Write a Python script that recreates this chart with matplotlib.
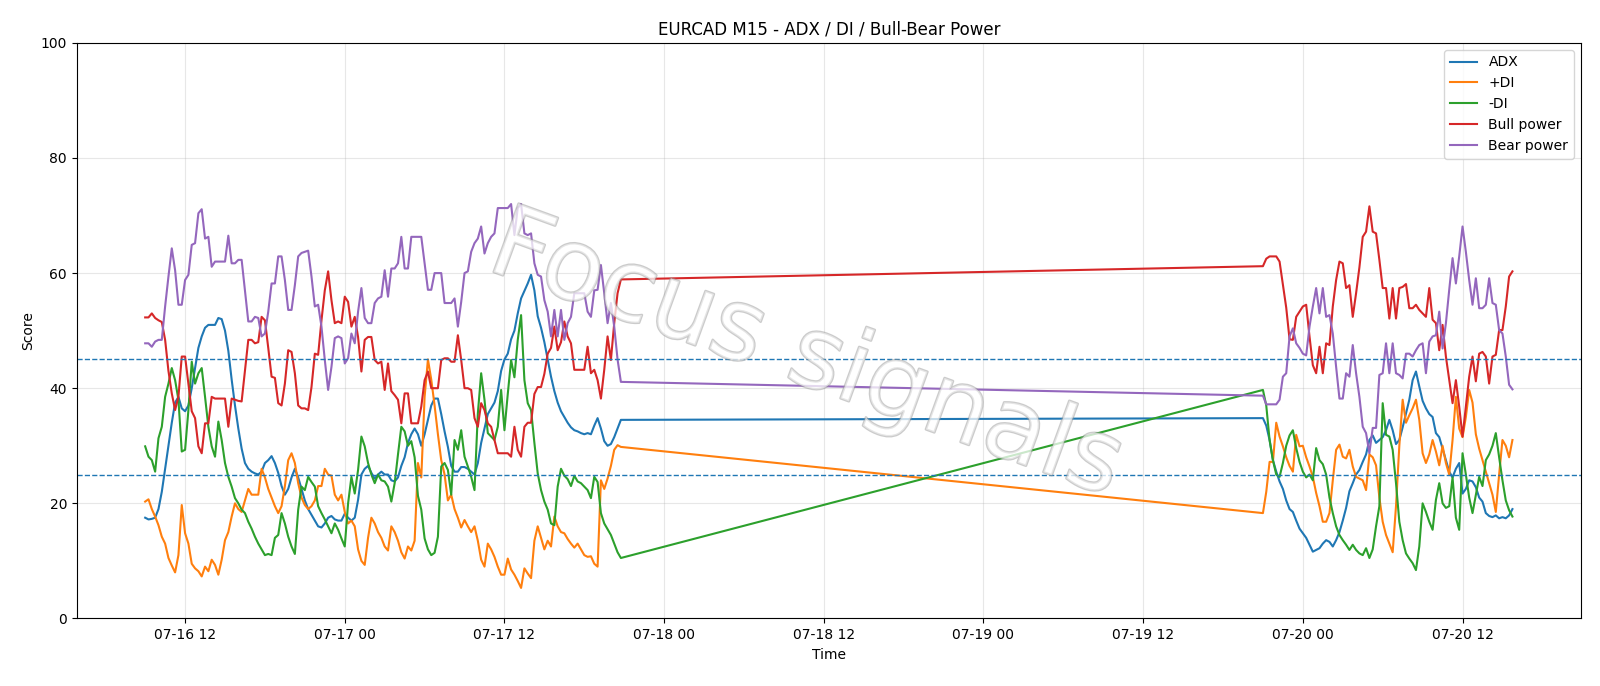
import matplotlib
matplotlib.use("Agg")
import matplotlib.pyplot as plt
import matplotlib.dates as mdates
import matplotlib.patheffects as pe
import pandas as pd

# ---- data: two trading segments of M15 bars ----
seg1_start = "2025-07-16 09:00"
seg2_start = "2025-07-19 21:00"

adx_1 = [17.5, 17.2, 17.3, 17.5, 19, 22, 26, 30, 34, 37.5,
         38.5, 36.5, 36, 37, 40, 43.5, 47, 49, 50.5, 51,
         51, 51, 52.2, 52, 50, 46.5, 41.5, 37, 33, 29.5,
         27, 26, 25.5, 25.2, 25, 25.5, 27, 27.5, 28.2, 27,
         25.3, 23, 21.5, 22.5, 24.5, 26, 24.5, 22.5, 20.5, 19,
         18, 17, 16, 15.8, 16.5, 17.5, 17.8, 17.2, 17, 17,
         18.2, 17.5, 17, 17.5, 20.6, 25, 26, 26.5, 25.3, 24.3,
         25, 25.5, 25, 25, 24, 23.8, 24.5, 26.5, 28, 30.5,
         32, 33, 32, 30, 32, 34.5, 37, 38.2, 38.2, 35.5,
         32.5, 29.8, 26.5, 25.5, 25.5, 26.3, 26.3, 26, 25.5, 25,
         27, 30.5, 33, 35.5, 36.5, 37.5, 39.5, 43, 45, 46,
         48.5, 50, 53, 55.6, 56.9, 58.2, 59.7, 57, 52.5, 50.5,
         48, 45, 42, 39.5, 37.5, 36, 35, 34, 33.2, 32.7,
         32.5, 32.2, 32, 32.2, 32, 33.5, 34.8, 33, 30.8, 30,
         30.3, 31.5, 33, 34.5]
pdi_1 = [20.3, 20.7, 19, 17.7, 16.2, 14.2, 13, 10.5, 9.2, 8,
         11, 19.7, 14.8, 13, 9.5, 8.7, 8.2, 7.3, 9, 8.2,
         10.2, 9.3, 7.6, 10.2, 13.6, 15, 17.7, 20, 19, 18.5,
         20.5, 22.5, 21.5, 21.5, 21.5, 26, 24.5, 22.5, 21, 19.5,
         18.3, 19.5, 23, 27.5, 28.7, 27, 23.5, 21, 19.7, 19,
         19.5, 20.5, 23, 23, 26, 25, 24.8, 21.5, 20.5, 21.5,
         18.5, 16.5, 17, 16, 12, 10, 9.3, 14, 17.5, 16.5,
         15, 14, 12.5, 11.8, 16, 15, 13.5, 11.5, 10.4, 12.5,
         11.8, 13.5, 27, 24.5, 38.5, 45, 41.5, 37, 32, 27.5,
         25, 20.5, 21.5, 19, 17.5, 15.8, 17.1, 16, 15, 16,
         13.5, 10.2, 9, 13, 12, 10.7, 9, 7.6, 7.6, 10.4,
         8.5, 7.6, 6.5, 5.3, 8.7, 7.8, 7, 13.5, 16, 14,
         12, 13.5, 12.5, 17.7, 16, 15, 14.8, 13.8, 13, 12.3,
         13, 12, 11, 10.7, 10.8, 9.5, 9, 24, 22.5, 24.3,
         26.5, 29.3, 30.1, 29.8]
mdi_1 = [29.9, 28.1, 27.5, 25.5, 31.3, 33.3, 38.5, 40.8, 43.5, 41.4,
         38, 29, 29.3, 36.2, 44.6, 40.8, 42.6, 43.5, 38.5, 33.3,
         29.9, 28.1, 34.2, 31, 27, 24.6, 22.9, 20.9, 20, 18.9,
         18.3, 16.8, 15.6, 14.2, 13, 12, 11, 11.2, 11, 14,
         14.5, 18.3, 16.5, 14.2, 12.5, 11.2, 18.9, 22.9, 22.3, 24.6,
         23.7, 22.9, 19.5, 18.3, 17.2, 16, 14.8, 16.5, 15.4, 13.9,
         12.5, 20, 24.6, 21.7, 25.8, 31.6, 29.9, 27, 25, 23.5,
         25, 24, 23.8, 22.9, 20.3, 23.5, 28.5, 33.3, 32.5, 30,
         30.8, 28, 21.3, 18.9, 13.9, 12, 11, 11.4, 14.2, 26.4,
         27, 25.8, 21.5, 31, 29.3, 32.7, 28.1, 26.4, 24.6, 22.3,
         35.6, 42.6, 38, 32.2, 31.6, 31, 33.3, 39.7, 32.7, 39,
         44.9, 41.9, 48.4, 52.7, 41.4, 37.4, 36.2, 30.5, 25.2, 22.3,
         20.3, 18.9, 16.5, 16.2, 22.9, 26, 24.8, 24.2, 23, 24.8,
         23.8, 23.5, 22.9, 22.3, 20.9, 24.6, 23.7, 18.3, 16.5, 15.5,
         14.5, 13, 11.5, 10.5]
bull_1 = [52.3, 52.3, 53, 52.2, 51.8, 51.5, 48.4, 43, 39.1, 36.2,
          38.5, 45.5, 45.5, 40.8, 36, 34.8, 29.9, 28.7, 33.9, 33.9,
          38.5, 38.2, 38.2, 38.2, 38.2, 33.3, 38.2, 38, 37.8, 37.7,
          43, 48.4, 48.4, 47.8, 48, 52.4, 51.8, 47, 42, 41.8,
          37.4, 37, 40.8, 46.6, 46.3, 42.6, 37, 36.5, 36.5, 36.2,
          40.2, 46, 45.8, 51.8, 57, 60.3, 55.3, 51.3, 51.6, 51.3,
          55.9, 55, 50.7, 52.4, 48.9, 42.9, 48.4, 48.9, 48.9, 44.9,
          44.3, 44.6, 39.7, 44.3, 39.5, 38.8, 38, 33.9, 39.1, 39.1,
          33.9, 33.9, 33.9, 36.8, 41.4, 42.9, 40, 40, 40, 44.9,
          45.2, 45.2, 44.6, 44.6, 49.2, 44.9, 40, 40, 39.7, 34.8,
          33.3, 37.4, 36.2, 33.9, 33.3, 31, 28.7, 28.7, 28.7, 28.7,
          28.1, 33.3, 29.3, 28.1, 33.3, 34, 34, 39, 40.2, 40.2,
          42.5, 46, 47, 50.7, 46.6, 48, 51.6, 49, 47.8, 43.2,
          43.2, 43.2, 43.2, 47.2, 42.6, 43.2, 41.4, 38.2, 43.2, 49,
          44.9, 51.3, 56.5, 58.9]
bear_1 = [47.8, 47.8, 47.2, 48.1, 48.4, 48.4, 54.2, 59.4, 64.3, 60.5,
          54.5, 54.5, 58.8, 59.7, 64.9, 65.2, 70.4, 71.1, 66, 66.3,
          61.1, 62, 62, 62, 62, 66.5, 61.7, 61.7, 62.3, 62.3,
          57, 51.6, 51.6, 52.4, 52.2, 49, 49.5, 53.3, 58.2, 58.2,
          62.9, 62.9, 58.8, 53.6, 53.6, 57.9, 62.9, 63.5, 63.7, 63.9,
          59.4, 54.2, 54.5, 50.7, 44.9, 39.7, 43.7, 48.7, 49, 48.7,
          44.3, 45.2, 49.5, 47.8, 53.3, 57.4, 52.2, 51.3, 51.3, 54.8,
          55.6, 55.9, 60.5, 55.9, 60.8, 60.8, 61.7, 66.3, 60.8, 60.8,
          66.3, 66.3, 66.3, 66.3, 61.7, 57.1, 57.1, 60, 60, 60,
          54.8, 54.8, 54.8, 55.6, 50.7, 55, 60, 60.3, 63.7, 65.2,
          66, 68.1, 63.4, 65.2, 66.3, 66.9, 71.3, 71.3, 71.3, 71.3,
          72, 66.6, 71.3, 72, 66.9, 66.6, 66.9, 61.7, 59.7, 59.4,
          55.3, 53.3, 49, 53.6, 49, 53.6, 48.4, 51.3, 52.4, 56.5,
          56.5, 56.5, 56.5, 53.3, 52.4, 57, 57.1, 61.4, 56.5, 51.3,
          54.8, 50.7, 45, 41.1]

adx_2 = [34.8, 33.5, 31, 27.5, 25.5, 23.8, 22.5, 20.5, 19, 18.5,
         17, 15.6, 14.8, 14, 12.8, 11.6, 11.9, 12.2, 13, 13.6,
         13.3, 12.5, 13.6, 15, 17, 19.2, 22.1, 23.5, 25, 25.8,
         27.2, 28.5, 31, 31.8, 30.5, 31, 31.5, 32.7, 34.5, 32.7,
         30.3, 31, 33.2, 35.6, 38, 41.4, 42.9, 40.3, 37.8, 36.5,
         35.5, 35, 32.2, 31.5, 29.5, 27.5, 25.5, 24.5, 26, 27,
         21.7, 22.5, 24, 23.8, 22.8, 21, 20.3, 18.3, 17.8, 17.6,
         17.9, 17.4, 17.6, 17.4, 17.9, 19]
pdi_2 = [18.3, 22, 27.2, 27.2, 34, 31.6, 29.9, 28, 26.5, 25.5,
         31.9, 29.9, 30, 28, 26.4, 24.6, 21.8, 19.5, 16.8, 16.8,
         18.3, 24, 29.3, 30.2, 28.1, 27.8, 29.3, 26.4, 24.6, 24.3,
         24, 22.3, 28.5, 28, 26.6, 21, 16.8, 14.5, 13, 11.5,
         19.5, 30, 38, 34, 35.3, 36.5, 38, 34.5, 28.7, 27,
         28.5, 31, 29, 26.6, 30, 27, 25, 31, 38.5, 33,
         31.5, 35, 39.7, 37.5, 32, 29.5, 27.5, 25.5, 23.5, 21.5,
         18.5, 25, 31, 30, 28, 31]
mdi_2 = [39.7, 37, 31, 27.5, 25, 24.6, 27, 30, 31.8, 32.7,
         29.6, 27.2, 25.5, 24.5, 25, 24, 29.6, 27.5, 26.8, 25,
         21, 18.3, 16, 14.5, 13.6, 12.8, 11.9, 12.8, 11.9, 11.3,
         11, 12.2, 10.5, 12, 16, 19.5, 37.4, 31.9, 31.6, 29.3,
         23.5, 16.8, 13.6, 11.3, 10.4, 9.6, 8.4, 12.5, 20, 18.5,
         16.8, 15.4, 20.6, 23.5, 20, 19.2, 19.5, 24.5, 17.5, 15.4,
         28.7, 25, 21, 18.3, 21.5, 24.6, 23, 27.5, 28.5, 30,
         32.2, 28, 24, 20.5, 18.8, 17.7]
bull_2 = [61.2, 62.5, 62.9, 62.9, 62.9, 62, 58, 54, 48.5, 48.4,
          52.4, 53.3, 54.2, 54.5, 49, 44, 42.6, 47.2, 42.6, 47.8,
          47.5, 54.2, 58.8, 62, 61.7, 57.4, 57.9, 52.4, 56.5, 61,
          66.3, 67.2, 71.6, 67.2, 66.9, 62.3, 57.4, 57.4, 52.1, 57.4,
          52.1, 57.4, 57.6, 58.1, 53.9, 53.9, 54.5, 53.6, 53, 52.4,
          57.4, 51.9, 51.3, 46.6, 51, 45.5, 41.4, 37.4, 41.4, 36.8,
          31.6, 36.8, 42, 45.5, 41.2, 46, 46.3, 45.5, 40.8, 45.5,
          45.8, 50.1, 50.1, 54.2, 59.4, 60.3]
bear_2 = [38.7, 37.2, 37.2, 37.2, 37.2, 38, 42, 42.6, 49, 50.4,
          47.8, 47, 46, 45.7, 50.7, 54.2, 57.4, 53, 57.4, 52.4,
          52.7, 49.5, 43.7, 38.2, 38.2, 42.6, 42, 47.5, 42.6, 38.5,
          33.3, 32.2, 28.7, 33.1, 33.1, 42.3, 42.6, 47.8, 42.6, 47.8,
          42.6, 42.3, 41.7, 46, 46, 45.5, 46.6, 47.5, 47.8, 42.6,
          48.1, 49, 49.2, 53.3, 46.9, 51.3, 57.1, 62.6, 58.2, 62.9,
          68.1, 63.7, 58.8, 54.5, 59.1, 53.9, 53.9, 54.5, 59.1, 54.8,
          54.5, 50.1, 49.5, 45.5, 40.6, 39.8]

series_names = ["ADX", "+DI", "-DI", "Bull power", "Bear power"]
thresholds = [25, 45]
title = "EURCAD M15 - ADX / DI / Bull-Bear Power"
watermark = "Focus signals"

t1 = pd.date_range(seg1_start, periods=len(adx_1), freq="15min")
t2 = pd.date_range(seg2_start, periods=len(adx_2), freq="15min")
times = t1.append(t2)

series = [adx_1 + adx_2, pdi_1 + pdi_2, mdi_1 + mdi_2,
          bull_1 + bull_2, bear_1 + bear_2]
colors = ["#1f77b4", "#ff7f0e", "#2ca02c", "#d62728", "#9467bd"]

fig, ax = plt.subplots(figsize=(16, 6.86), dpi=100)
for vals, name, c in zip(series, series_names, colors):
    ax.plot(times, vals, label=name, color=c, lw=1.5)

for th in thresholds:
    ax.axhline(th, color="#1f77b4", ls="--", lw=1)

ax.set_ylim(0, 100)
ax.grid(True, alpha=0.3)
ax.set_title(title)
ax.set_xlabel("Time")
ax.set_ylabel("Score")
ax.xaxis.set_major_locator(mdates.HourLocator(byhour=[0, 12]))
ax.xaxis.set_major_formatter(mdates.DateFormatter("%m-%d %H"))
ax.legend(loc="upper right")

ax.text(0.485, 0.455, watermark, transform=ax.transAxes, fontsize=72,
        color="white", alpha=0.5, rotation=-20, ha="center", va="center",
        zorder=5,
        path_effects=[pe.withStroke(linewidth=1.8, foreground="#999999")])

fig.subplots_adjust(left=0.048, right=0.988, top=0.9375, bottom=0.0985)
fig.savefig("out.png", dpi=100)
